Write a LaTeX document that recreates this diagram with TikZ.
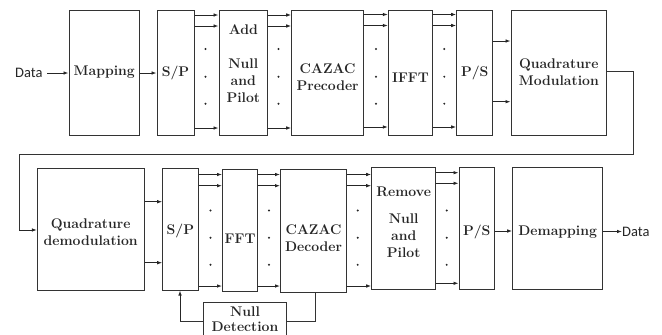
\documentclass[tikz,border=0pt]{standalone}
\usepackage{fontspec}
\newfontfamily\datafont{Carlito}
\usetikzlibrary{arrows.meta,fit}
\begin{document}
\begin{tikzpicture}[x=1pt,y=-1pt,
  blk/.style={draw=black!80,line width=1pt,inner sep=0pt,fill=none},
  txt/.style={font=\fontsize{14}{17}\selectfont\bfseries,align=center,inner sep=0pt,text=black!85},
  datat/.style={font=\datafont\fontsize{14.5}{16}\selectfont,inner sep=0pt,text=black!85},
  arr/.style={draw=black!85,line width=0.9pt,-{Latex[length=5pt,width=3.6pt]}},
  ln/.style={draw=black!80,line width=1pt},
  dot/.style={fill=black!85}]
\useasboundingbox (0,0) rectangle (662,335);
\clip (0,0) rectangle (662,335);
% ---------- top row boxes ----------
\node[blk,fit={(69,10) (139.5,135)}] (map) {};
\node[blk,fit={(157,10) (194,135)}] (sp1) {};
\node[blk,fit={(219,10) (267.7,135)}] (add) {};
\node[blk,fit={(291.7,10) (363.5,135)}] (pre) {};
\node[blk,fit={(388.3,10) (432.7,135)}] (ifft) {};
\node[blk,fit={(456.7,10) (492.7,135)}] (ps1) {};
\node[blk,fit={(511,10) (606.7,135)}] (qmod) {};
% texts top
\node[txt] (mapT) at (104.3,72.5) {Mapping};
\node[txt] (sp1T) at (175.5,73) {S/P};
\node[txt] (addT1) at (243.3,30) {Add};
\node[txt] (addT2) at (243.3,81) {Null\\and\\Pilot};
\node[txt] (preT) at (327.6,77) {CAZAC\\Precoder};
\node[txt] (ifftT) at (410.5,78) {IFFT};
\node[txt] (ps1T) at (474.7,73) {P/S};
\node[txt] (qmodT) at (558.8,72) {Quadrature\\Modulation};
% ---------- bottom row boxes ----------
\node[blk,fit={(37.3,168.3) (144,290)}] (qdem) {};
\node[blk,fit={(162.7,168.3) (198,290)}] (sp2) {};
\node[blk,fit={(222.5,169.3) (257.7,291.2)}] (fft) {};
\node[blk,fit={(280.5,169) (346.4,292)}] (dec) {};
\node[blk,fit={(371.7,167.3) (435.7,289.3)}] (rem) {};
\node[blk,fit={(459,167.3) (494.3,289.3)}] (ps2) {};
\node[blk,fit={(512.7,167.3) (602.7,289.3)}] (dmap) {};
\node[blk,fit={(203.3,302.5) (286.7,345)}] (nd) {};
% texts bottom
\node[txt] (qdemT) at (90.7,232) {Quadrature\\demodulation};
\node[txt] (sp2T) at (180.4,230.5) {S/P};
\node[txt] (fftT) at (240.1,238.5) {FFT};
\node[txt] (decT) at (313.5,238.5) {CAZAC\\Decoder};
\node[txt] (remT1) at (403.7,191.5) {Remove};
\node[txt] (remT2) at (403.7,236) {Null\\and\\Pilot};
\node[txt] (ps2T) at (476.7,231.5) {P/S};
\node[txt] (dmapT) at (557.7,232) {Demapping};
\node[txt,font=\fontsize{14}{15}\selectfont\bfseries] (ndT) at (245,319.5) {Null\\Detection};
% ---------- data in / out ----------
\node[datat,anchor=west] (din) at (15,73) {Data};
\draw[arr] ([xshift=4.7pt]din.east) -- (map.west |- din.east);
\draw[arr] (map.east |- 0,73) -- (sp1.west |- 0,73);
\node[datat,anchor=west] (dout) at (622,231.5) {Data};
\draw[arr] (dmap.east |- dout.west) -- (dout.west);
% ---------- top parallel arrows ----------
\foreach \yy in {15,26,128}{
  \draw[arr] (sp1.east |- 0,\yy) -- (add.west |- 0,\yy);
  \draw[arr] (add.east |- 0,\yy) -- (pre.west |- 0,\yy);
}
\foreach \yy in {14.5,25.5,127}{
  \draw[arr] (pre.east |- 0,\yy) -- (ifft.west |- 0,\yy);
  \draw[arr] (ifft.east |- 0,\yy) -- (ps1.west |- 0,\yy);
}
\draw[arr] (ps1.east |- 0,41) -- (qmod.west |- 0,41);
\draw[arr] (ps1.east |- 0,101.7) -- (qmod.west |- 0,101.7);
% dots top
\foreach \xx in {205.5,278.5,376,444.3}{
  \foreach \yy in {49,76.7,103.7}{
    \fill[dot] (\xx,\yy) circle (1.1);
  }
}
% ---------- feedback line ----------
\draw[ln] (qmod.east |- 0,71) -- (633.3,71) -- (633.3,154) -- (19.3,154) -- (19.3,230);
\draw[arr] (19.3,230) -- (qdem.west |- 0,230);
% ---------- bottom parallel arrows ----------
\draw[arr] (qdem.east |- 0,201.7) -- (sp2.west |- 0,201.7);
\draw[arr] (qdem.east |- 0,262.7) -- (sp2.west |- 0,262.7);
\foreach \yy in {174.5,185.7,286}{
  \draw[arr] (sp2.east |- 0,\yy) -- (fft.west |- 0,\yy);
  \draw[arr] (fft.east |- 0,\yy) -- (dec.west |- 0,\yy);
  \draw[arr] (dec.east |- 0,\yy) -- (rem.west |- 0,\yy);
}
\foreach \yy in {172.7,183.3,283.3}{
  \draw[arr] (rem.east |- 0,\yy) -- (ps2.west |- 0,\yy);
}
\draw[arr] (ps2.east |- 0,231) -- (dmap.west |- 0,231);
% dots bottom
\foreach \xx in {210.5,269,357.7,446.7}{
  \foreach \yy in {210.5,237.7,264.8}{
    \fill[dot] (\xx,\yy) circle (1.1);
  }
}
% ---------- null detection loop ----------
\draw[ln] (315,0 |- dec.south) -- (315,321) -- (nd.east |- 0,321);
\draw[ln] (nd.west |- 0,321) -- (180,321);
\draw[arr] (180,321) -- (180,0 |- sp2.south);
\end{tikzpicture}
\end{document}
